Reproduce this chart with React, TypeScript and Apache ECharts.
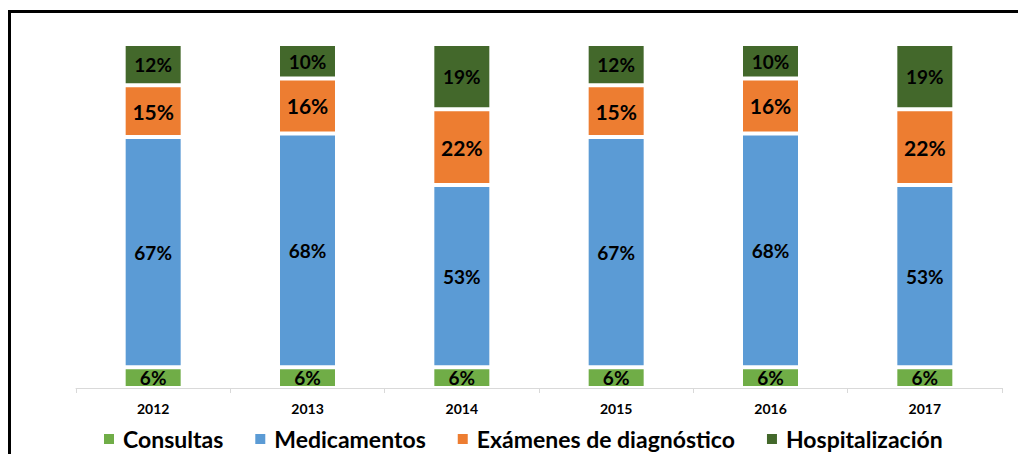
import React, { useEffect, useRef } from "react";
import * as echarts from "echarts";

const years = ["2012", "2013", "2014", "2015", "2016", "2017"];
const consultas = [6, 6, 6, 6, 6, 6];
const medicamentos = [67, 68, 53, 67, 68, 53];
const examenes = [15, 16, 22, 15, 16, 22];
const hospitalizacion = [12, 10, 19, 12, 10, 19];

const seriesNames = ["Consultas", "Medicamentos", "Exámenes de diagnóstico", "Hospitalización"];
const seriesColors = ["#70AD47", "#5B9BD5", "#ED7D31", "#43682B"];
const labelSizes = [19, 19, 21, 19];

const FONT = "Lato, 'Open Sans', sans-serif";

export default function App() {
  const ref = useRef<HTMLDivElement>(null);
  useEffect(() => {
    if (!ref.current) return;
    const chart = echarts.init(ref.current, null, { renderer: "svg" });
    const data = [consultas, medicamentos, examenes, hospitalizacion];
    chart.setOption({
      animation: false,
      backgroundColor: "#ffffff",
      textStyle: { fontFamily: FONT },
      graphic: [
        {
          type: "rect",
          shape: { x: 9.5, y: 11.5, width: 1100, height: 600 },
          style: { fill: "none", stroke: "#000000", lineWidth: 3 },
          z: 100,
        },
      ],
      legend: {
        data: seriesNames,
        left: 97,
        top: 421,
        itemWidth: 12,
        itemHeight: 12,
        itemGap: 30,
        icon: "rect",
        textStyle: {
          fontFamily: FONT,
          fontSize: 23,
          lineHeight: 26,
          fontWeight: "bold",
          color: "#000000",
          padding: [0, 0, 0, 3],
        },
      },
      grid: { left: 76, right: 16, top: 44, bottom: 66 },
      xAxis: {
        type: "category",
        data: years,
        axisLine: { lineStyle: { color: "#D9D9D9", width: 1 } },
        axisTick: { show: true, length: 5, lineStyle: { color: "#D9D9D9" } },
        axisLabel: {
          fontFamily: FONT,
          fontSize: 14,
          fontWeight: "bold",
          color: "#000000",
          margin: 13,
        },
      },
      yAxis: {
        type: "value",
        min: 0,
        max: 100,
        show: false,
        splitLine: { show: false },
      },
      series: seriesNames.map((name, i) => ({
        name,
        type: "bar",
        stack: "total",
        barWidth: 59,
        data: data[i],
        itemStyle: { color: seriesColors[i], borderColor: "#ffffff", borderWidth: 2 },
        label: {
          show: true,
          position: "inside",
          formatter: "{c}%",
          fontFamily: FONT,
          fontSize: labelSizes[i],
          fontWeight: "bold",
          color: "#000000",
        },
      })),
    });
    return () => chart.dispose();
  }, []);
  return (
    <div
      ref={ref}
      style={{ position: "absolute", left: 0, top: 0, width: 1018, height: 454 }}
    />
  );
}
